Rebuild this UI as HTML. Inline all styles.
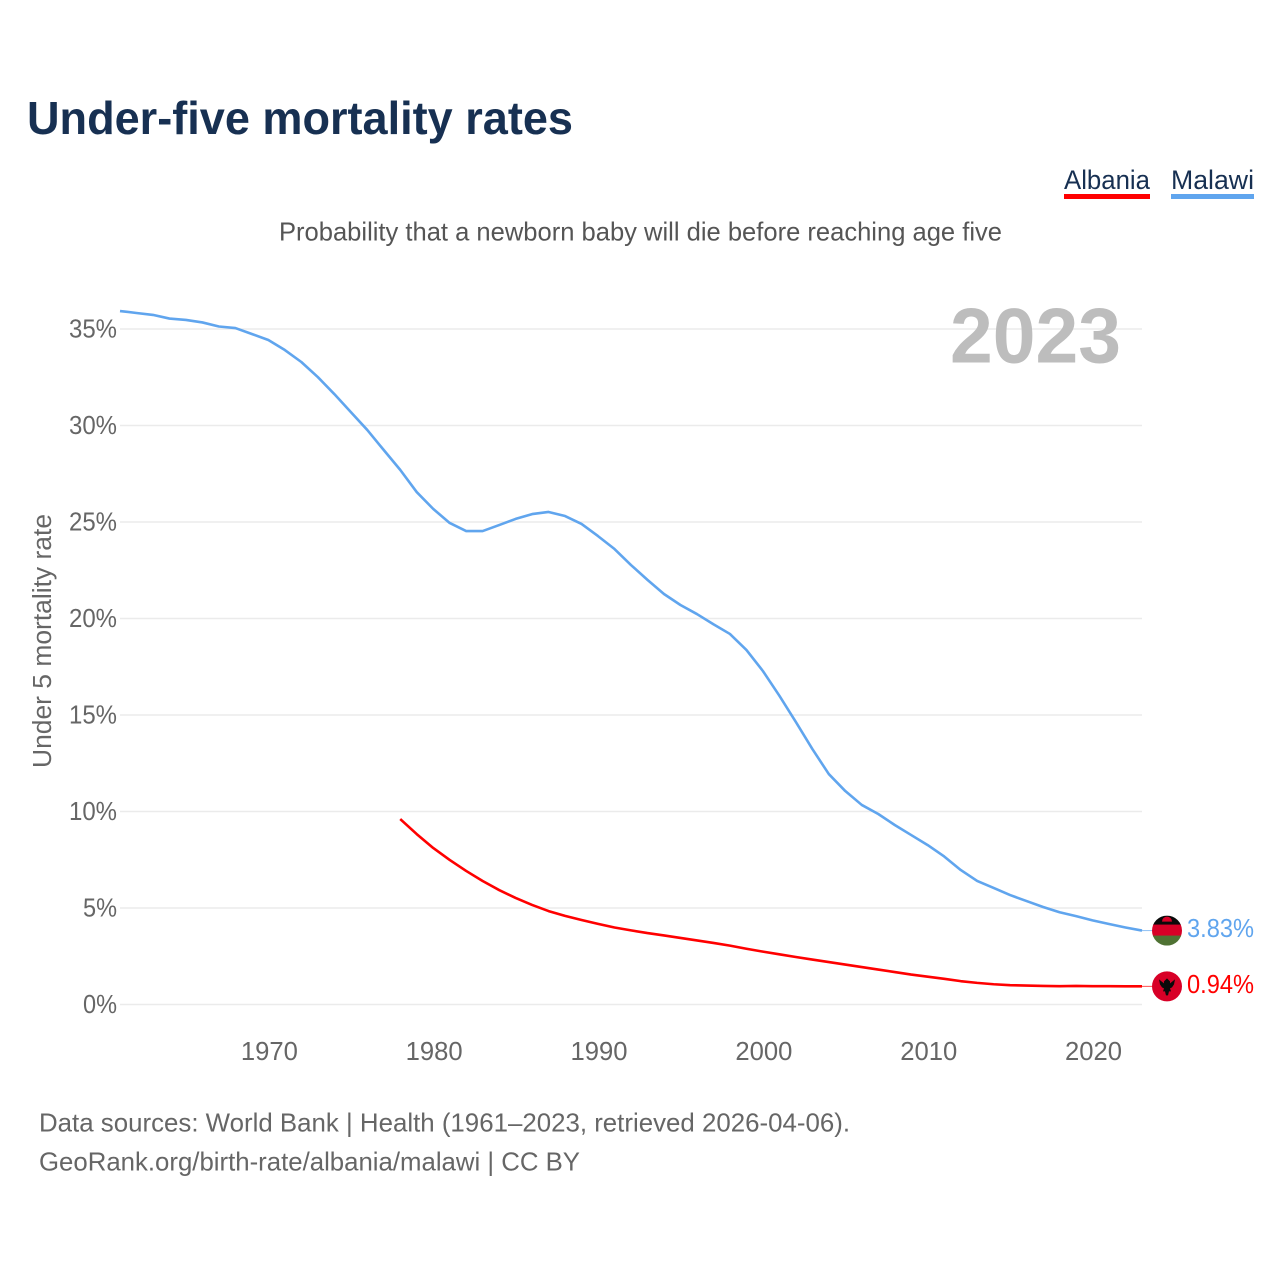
<!DOCTYPE html>
<html lang="en">
<head>
<meta charset="utf-8">
<title>Under-five mortality rates</title>
<style>
html,body{margin:0;padding:0;background:#fff;}
svg{display:block;font-family:"Liberation Sans",sans-serif;}
</style>
</head>
<body>
<svg id="chart" width="1280" height="1280" viewBox="0 0 1280 1280" xmlns="http://www.w3.org/2000/svg">
  <defs>
    <clipPath id="flag-clip"><circle cx="0" cy="0" r="15"></circle></clipPath>
  </defs>
  <rect x="0" y="0" width="1280" height="1280" fill="#ffffff"></rect>
  <text x="27" y="134" font-size="46" font-weight="700" fill="#173052" textLength="546" lengthAdjust="spacingAndGlyphs">Under-five mortality rates</text>

  <g>
    <text x="1064" y="189" font-size="26.5" fill="#173052" textLength="86" lengthAdjust="spacingAndGlyphs">Albania</text>
    <rect x="1064" y="194" width="86" height="5" fill="#ff0000"></rect>
  </g>
  <g>
    <text x="1171" y="189" font-size="26.5" fill="#173052" textLength="83" lengthAdjust="spacingAndGlyphs">Malawi</text>
    <rect x="1171" y="194" width="83" height="5" fill="#60a5ee"></rect>
  </g>

  <text x="279" y="240.5" font-size="26" fill="#555555" textLength="723" lengthAdjust="spacingAndGlyphs">Probability that a newborn baby will die before reaching age five</text>

  <g id="grid"></g>
  <g id="y-ticks"></g>
  <g id="x-ticks"></g>

  <text x="950" y="362.5" font-size="78" font-weight="700" fill="#bdbdbd" textLength="171" lengthAdjust="spacingAndGlyphs">2023</text>

  <text transform="translate(51 641) rotate(-90)" text-anchor="middle" font-size="25.5" fill="#666666" textLength="254" lengthAdjust="spacingAndGlyphs">Under 5 mortality rate</text>

  <g id="series"></g>

  <g id="flag-malawi">
    <g clip-path="url(#flag-clip)">
      <rect x="-15" y="-15" width="30" height="10" fill="#0a0a0a"></rect>
      <rect x="-15" y="-6" width="30" height="12" fill="#d80027"></rect>
      <rect x="-15" y="5" width="30" height="10" fill="#4f7233"></rect>
      <path d="M-5,-7 A5,5 0 0 1 5,-7 Z" transform="translate(0 -2)" fill="#d80027"></path>
    </g>
  </g>
  <g id="flag-albania">
    <circle cx="0" cy="0" r="15" fill="#d80027"></circle>
    <path d="M0,-8 L3,-5 L3,-3 L8,-7 L7,-2 L5,1 L3,2 L4,5 L2,5 L1,9 L-1,9 L-2,5 L-4,5 L-3,2 L-5,1 L-7,-2 L-8,-7 L-3,-3 L-3,-5 Z" fill="#0a0a0a"></path>
  </g>

  <text id="value-malawi" x="1187" font-size="26" fill="#60a5ee" textLength="67" lengthAdjust="spacingAndGlyphs"></text>
  <text id="value-albania" x="1187" font-size="26" fill="#ff0000" textLength="67" lengthAdjust="spacingAndGlyphs"></text>

  <text x="39" y="1131.5" font-size="26" fill="#666666" textLength="811" lengthAdjust="spacingAndGlyphs">Data sources: World Bank | Health (1961–2023, retrieved 2026-04-06).</text>
  <text x="39" y="1170.5" font-size="26" fill="#666666" textLength="541" lengthAdjust="spacingAndGlyphs">GeoRank.org/birth-rate/albania/malawi | CC BY</text>
</svg>
<script>
const years = [1961,1962,1963,1964,1965,1966,1967,1968,1969,1970,1971,1972,1973,1974,1975,1976,1977,1978,1979,1980,1981,1982,1983,1984,1985,1986,1987,1988,1989,1990,1991,1992,1993,1994,1995,1996,1997,1998,1999,2000,2001,2002,2003,2004,2005,2006,2007,2008,2009,2010,2011,2012,2013,2014,2015,2016,2017,2018,2019,2020,2021,2022,2023];
const malawiValues = [35.93,35.83,35.73,35.54,35.47,35.34,35.13,35.05,34.74,34.43,33.91,33.29,32.51,31.63,30.7,29.77,28.73,27.7,26.55,25.68,24.95,24.53,24.53,24.84,25.16,25.41,25.52,25.31,24.9,24.27,23.6,22.77,22,21.27,20.7,20.23,19.7,19.2,18.37,17.28,16,14.64,13.24,11.94,11.06,10.34,9.87,9.3,8.78,8.26,7.67,6.97,6.4,6.04,5.67,5.36,5.05,4.78,4.58,4.36,4.17,3.99,3.83];
const albaniaValues = [null,null,null,null,null,null,null,null,null,null,null,null,null,null,null,null,null,9.61,8.83,8.11,7.49,6.92,6.4,5.93,5.52,5.16,4.84,4.59,4.38,4.18,3.99,3.84,3.7,3.58,3.45,3.32,3.19,3.05,2.89,2.74,2.6,2.46,2.33,2.2,2.07,1.94,1.81,1.68,1.55,1.44,1.33,1.21,1.12,1.05,1,0.98,0.96,0.95,0.96,0.95,0.95,0.94,0.94];
const yTickValues = [0,5,10,15,20,25,30,35];
const xTickValues = [1970,1980,1990,2000,2010,2020];

const SVG_NS = 'http://www.w3.org/2000/svg';
const plotLeft = 120, plotRight = 1142, yZero = 1004.5, yPerPercent = 19.3;

function xScale(year) {
  return plotLeft + (year - years[0]) * (plotRight - plotLeft) / (years[years.length - 1] - years[0]);
}
function yScale(value) {
  return yZero - value * yPerPercent;
}
function make(tag, attrs) {
  const el = document.createElementNS(SVG_NS, tag);
  for (const key in attrs) el.setAttribute(key, attrs[key]);
  return el;
}
function linePath(values) {
  let d = '';
  values.forEach(function (v, i) {
    if (v === null) return;
    d += (d ? 'L' : 'M') + xScale(years[i]).toFixed(2) + ',' + yScale(v).toFixed(2);
  });
  return d;
}

const gridGroup = document.getElementById('grid');
const yGroup = document.getElementById('y-ticks');
yTickValues.forEach(function (v) {
  const text = v + '%';
  const line = make('line', {x1: plotLeft, x2: plotRight, y1: yScale(v), y2: yScale(v), stroke: '#ebebeb', 'stroke-width': 1.5});
  
  
  gridGroup.appendChild(line);
  const label = make('text', {x: 117, y: yScale(v) + 8.5, 'text-anchor': 'end', 'font-size': 25.5, fill: '#666666', textLength: text.length === 2 ? 34 : 48, lengthAdjust: 'spacingAndGlyphs'});
  
  
  label.textContent = text;
  yGroup.appendChild(label);
});

const xGroup = document.getElementById('x-ticks');
xTickValues.forEach(function (year) {
  const label = make('text', {x: xScale(year) + 1, y: 1060, 'text-anchor': 'middle', 'font-size': 25.5, fill: '#666666', textLength: 57, lengthAdjust: 'spacingAndGlyphs'});
  
  
  label.textContent = year;
  xGroup.appendChild(label);
});

const seriesGroup = document.getElementById('series');
const malawiLine = make('path', {d: linePath(malawiValues), fill: 'none', stroke: '#60a5ee', 'stroke-width': 2.6, 'stroke-linejoin': 'round'});


seriesGroup.appendChild(malawiLine);
const albaniaLine = make('path', {d: linePath(albaniaValues), fill: 'none', stroke: '#ff0000', 'stroke-width': 2.6, 'stroke-linejoin': 'round'});


seriesGroup.appendChild(albaniaLine);

const malawiLast = malawiValues[malawiValues.length - 1];
const albaniaLast = albaniaValues[albaniaValues.length - 1];

const malawiStub = make('line', {x1: plotRight, x2: 1152, y1: yScale(malawiLast), y2: yScale(malawiLast), stroke: '#60a5ee', 'stroke-width': 1, 'stroke-opacity': 0.7});


seriesGroup.appendChild(malawiStub);
const albaniaStub = make('line', {x1: plotRight, x2: 1152, y1: yScale(albaniaLast), y2: yScale(albaniaLast), stroke: '#ff0000', 'stroke-width': 1, 'stroke-opacity': 0.7});


seriesGroup.appendChild(albaniaStub);

document.getElementById('flag-malawi').setAttribute('transform', 'translate(1167 ' + yScale(malawiLast) + ')');
document.getElementById('flag-albania').setAttribute('transform', 'translate(1167 ' + yScale(albaniaLast) + ')');

const malawiLabel = document.getElementById('value-malawi');
malawiLabel.setAttribute('y', yScale(malawiLast) + 6.5);
malawiLabel.textContent = malawiLast.toFixed(2) + '%';
const albaniaLabel = document.getElementById('value-albania');
albaniaLabel.setAttribute('y', yScale(albaniaLast) + 6.5);
albaniaLabel.textContent = albaniaLast.toFixed(2) + '%';
</script>
</body>
</html>
